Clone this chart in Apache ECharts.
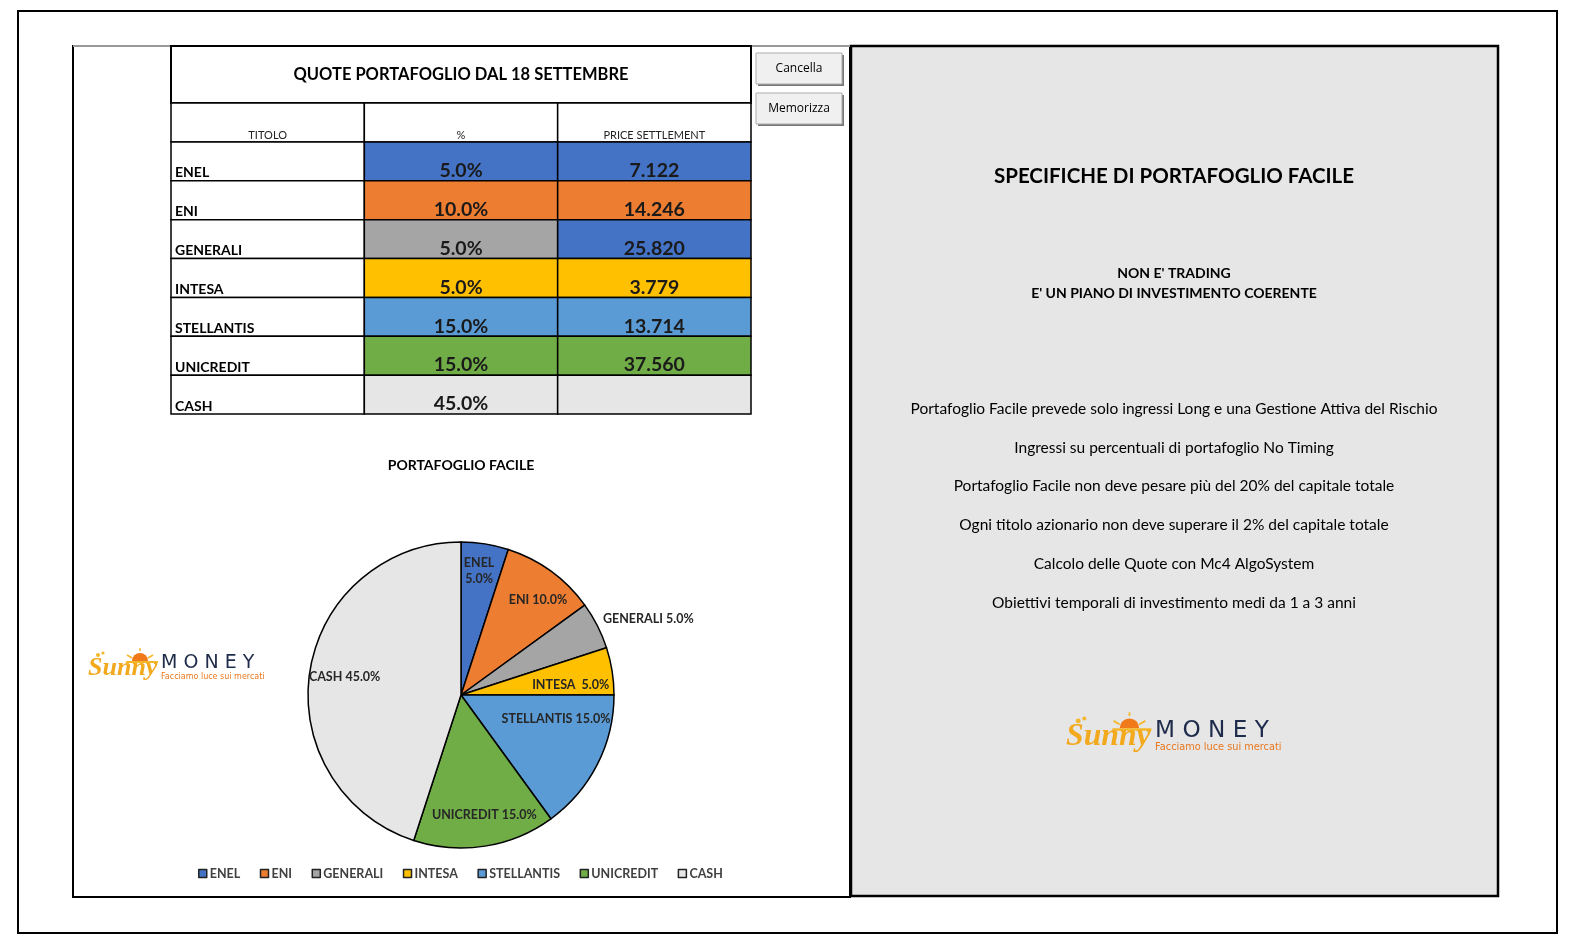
<!DOCTYPE html>
<html>
<head>
<meta charset="utf-8">
<script src="https://cdn.jsdelivr.net/npm/echarts@6/dist/echarts.min.js"></script>
<style>
html,body{margin:0;padding:0;background:#fff;}
#main{width:1574px;height:946px;}
</style>
</head>
<body>
<div id="main"></div>
<script>
// ---------- DATA ----------
const titoli = ['ENEL', 'ENI', 'GENERALI', 'INTESA', 'STELLANTIS', 'UNICREDIT', 'CASH'];
const quote = [5.0, 10.0, 5.0, 5.0, 15.0, 15.0, 45.0];
const prezzi = [7.122, 14.246, 25.820, 3.779, 13.714, 37.560, null];
const intestazioni = ['TITOLO', '%', 'PRICE SETTLEMENT'];
const titoloTabella = 'QUOTE PORTAFOGLIO DAL 18 SETTEMBRE';
const titoloGrafico = 'PORTAFOGLIO FACILE';
const specificheTitolo = 'SPECIFICHE DI PORTAFOGLIO FACILE';
const specificheSottotitolo = ["NON E' TRADING", "E' UN PIANO DI INVESTIMENTO COERENTE"];
const specifiche = [
  'Portafoglio Facile prevede solo ingressi Long e una Gestione Attiva del Rischio',
  'Ingressi su percentuali di portafoglio No Timing',
  'Portafoglio Facile non deve pesare più del 20% del capitale totale',
  'Ogni titolo azionario non deve superare il 2% del capitale totale',
  'Calcolo delle Quote con Mc4 AlgoSystem',
  'Obiettivi temporali di investimento medi da 1 a 3 anni'
];
const pulsanti = ['Cancella', 'Memorizza'];

// ---------- STYLE ----------
const FONT = 'Lato, "Open Sans", sans-serif';
const colori = ['#4472C4', '#ED7D31', '#A5A5A5', '#FFC000', '#5B9BD5', '#70AD47', '#E7E6E6'];
const coloriPrezzo = ['#4472C4', '#ED7D31', '#4472C4', '#FFC000', '#5B9BD5', '#70AD47', '#E7E6E6'];
const CX = 461, CY = 695, R = 153;
// label placement: [radius fraction, angle tweak in degrees]
const labelPos = [[0.82, -0.7], [0.8, 3], [1.32, 5], [0.72, 4], [0.64, -13], [0.8, -2], [0.77, 0]];

const chart = echarts.init(document.getElementById('main'), null, {renderer: 'canvas'});

// table cells (header row + data rows) x 3 columns
const cellData = [];
for (let r = 0; r <= titoli.length; r++) {
  for (let c = 0; c < 3; c++) cellData.push([c, r]);
}

function cellText(c, r) {
  if (r === 0) return intestazioni[c];
  const i = r - 1;
  if (c === 0) return titoli[i];
  if (c === 1) return quote[i].toFixed(1) + '%';
  return prezzi[i] == null ? '' : prezzi[i].toFixed(3);
}
function cellFill(c, r) {
  if (r === 0 || c === 0) return '#ffffff';
  const i = r - 1;
  return c === 1 ? colori[i] : coloriPrezzo[i];
}

function renderCell(params, api) {
  const c = api.value(0), r = api.value(1);
  const p = api.coord([c, r]);
  const s = api.size([1, 1]);
  const x = p[0] - s[0] / 2, y = p[1] - s[1] / 2;
  const children = [{
    type: 'rect',
    shape: {x: x, y: y, width: s[0], height: s[1]},
    style: {fill: cellFill(c, r), stroke: '#000', lineWidth: 1.5}
  }];
  const txt = cellText(c, r);
  if (r === 0) {
    children.push({type: 'text', style: {text: txt, x: x + s[0] / 2, y: y + s[1] - 1, align: 'center', verticalAlign: 'bottom', font: '11px ' + FONT, fill: '#222'}});
  } else if (c === 0) {
    children.push({type: 'text', style: {text: txt, x: x + 4, y: y + s[1] - 1, align: 'left', verticalAlign: 'bottom', font: 'bold 14px ' + FONT, fill: '#000'}});
  } else {
    children.push({type: 'text', style: {text: txt, x: x + s[0] / 2, y: y + s[1], align: 'center', verticalAlign: 'bottom', font: 'bold 19.5px ' + FONT, fill: '#1a1a1a'}});
  }
  return {type: 'group', children: children};
}

// logo drawing (decorative)
function logo(x, y, k) {
  return {
    type: 'group', x: x, y: y, scaleX: k, scaleY: k,
    children: [
      {type: 'sector', shape: {cx: 52, cy: 10, r: 8, r0: 0, startAngle: Math.PI, endAngle: 2 * Math.PI}, style: {fill: '#F07A1A'}},
      {type: 'line', shape: {x1: 39, y1: 4, x2: 44, y2: 7}, style: {stroke: '#F5B72A', lineWidth: 1.5}},
      {type: 'line', shape: {x1: 52, y1: -3, x2: 52, y2: 0}, style: {stroke: '#F5B72A', lineWidth: 1.5}},
      {type: 'line', shape: {x1: 65, y1: 4, x2: 60, y2: 7}, style: {stroke: '#F5B72A', lineWidth: 1.5}},
      {type: 'rect', shape: {x: 38, y: 10, width: 32, height: 2}, style: {fill: '#F5B72A'}},
      {type: 'circle', shape: {cx: 10, cy: 4, r: 2}, style: {fill: '#F5B72A'}},
      {type: 'circle', shape: {cx: 15, cy: 2, r: 1.6}, style: {fill: '#F5B72A'}},
      {type: 'text', style: {text: 'Sunny', x: 0, y: 30, font: 'italic bold 26px "Liberation Serif", serif', fill: '#F2A91E', verticalAlign: 'bottom'}},
      {type: 'text', style: {text: 'M O N E Y', x: 73, y: 22, font: '19px "DejaVu Sans", sans-serif', fill: '#1E2B4A', verticalAlign: 'bottom'}},
      {type: 'text', style: {text: 'Facciamo luce sui mercati', x: 73, y: 30, font: '8px "DejaVu Sans", sans-serif', fill: '#E8771E', verticalAlign: 'bottom'}}
    ]
  };
}

const graphics = [
  // outer frame
  {type: 'rect', z: -10, shape: {x: 18, y: 11, width: 1539, height: 922}, style: {fill: '#fff', stroke: '#000', lineWidth: 2}},
  // left panel
  {type: 'rect', z: -9, shape: {x: 73, y: 46, width: 777, height: 851}, style: {fill: '#fff', stroke: '#000', lineWidth: 2}},
  {type: 'line', z: -8, shape: {x1: 73, y1: 46, x2: 850, y2: 46}, style: {stroke: '#999', lineWidth: 2}},
  // right panel
  {type: 'rect', z: -9, shape: {x: 851, y: 46, width: 647, height: 850}, style: {fill: '#E6E6E6', stroke: '#000', lineWidth: 2.5}},
  // table title box
  {type: 'rect', shape: {x: 171, y: 46, width: 580, height: 57}, style: {fill: '#fff', stroke: '#000', lineWidth: 2}},
  {type: 'text', style: {text: titoloTabella, x: 461, y: 75, align: 'center', verticalAlign: 'middle', font: 'bold 16.5px ' + FONT, fill: '#000'}},
  // pie title
  {type: 'text', style: {text: titoloGrafico, x: 461, y: 465, align: 'center', verticalAlign: 'middle', font: 'bold 14px ' + FONT, fill: '#000'}},
  // right panel texts
  {type: 'text', style: {text: specificheTitolo, x: 1174, y: 176, align: 'center', verticalAlign: 'middle', font: 'bold 20.5px ' + FONT, fill: '#000'}},
  {type: 'text', style: {text: specificheSottotitolo[0], x: 1174, y: 273, align: 'center', verticalAlign: 'middle', font: 'bold 14px ' + FONT, fill: '#000'}},
  {type: 'text', style: {text: specificheSottotitolo[1], x: 1174, y: 293, align: 'center', verticalAlign: 'middle', font: 'bold 14px ' + FONT, fill: '#000'}},
  logo(88, 651, 1.0),
  logo(1066, 716, 1.22)
];
specifiche.forEach(function (t, i) {
  graphics.push({type: 'text', style: {text: t, x: 1174, y: 409 + i * 38.7, align: 'center', verticalAlign: 'middle', font: '15.5px ' + FONT, fill: '#000'}});
});
pulsanti.forEach(function (t, i) {
  const y = 53 + i * 40;
  graphics.push({type: 'rect', shape: {x: 758, y: y + 2, width: 86, height: 31}, style: {fill: '#777'}});
  graphics.push({type: 'rect', shape: {x: 756, y: y, width: 86, height: 31}, style: {fill: '#F0F0F0', stroke: '#ADADAD', lineWidth: 1}});
  graphics.push({type: 'text', style: {text: t, x: 799, y: y + 16, align: 'center', verticalAlign: 'middle', font: '12px "Open Sans", sans-serif', fill: '#000'}});
});

// cumulative angles for label placement
const totale = quote.reduce((a, b) => a + b, 0);
const midAngles = [];
let acc = 0;
quote.forEach(function (q) { midAngles.push((acc + q / 2) / totale * 360); acc += q; });

chart.setOption({
  animation: false,
  graphic: graphics,
  grid: {left: 171, top: 103, width: 580, height: 311},
  xAxis: {type: 'category', data: intestazioni, show: false},
  yAxis: {type: 'category', data: ['header'].concat(titoli), inverse: true, show: false},
  legend: {
    left: 193, top: 862, itemGap: 19.5, itemWidth: 8, itemHeight: 8, icon: 'rect',
    itemStyle: {borderColor: '#222', borderWidth: 1.5},
    textStyle: {fontFamily: FONT, fontWeight: 'bold', fontSize: 12.5, color: '#404040', padding: [0, 0, 0, -2]},
    data: titoli
  },
  series: [
    {
      type: 'custom', coordinateSystem: 'cartesian2d', renderItem: renderCell,
      data: cellData, silent: true
    },
    {
      type: 'pie', center: [CX, CY], radius: R, startAngle: 90, clockwise: true,
      itemStyle: {borderColor: '#000', borderWidth: 1.5},
      emphasis: {disabled: true},
      label: {
        show: true, position: 'inside', fontFamily: FONT, fontWeight: 'bold', fontSize: 12.5, color: '#262626', lineHeight: 16,
        formatter: function (p) {
          const v = quote[p.dataIndex].toFixed(1) + '%';
          if (p.dataIndex === 0) return p.name + '\n' + v;
          if (p.dataIndex === 3) return p.name + '  ' + v;
          return p.name + ' ' + v;
        }
      },
      labelLine: {show: false},
      labelLayout: function (p) {
        const i = p.dataIndex;
        const a = (midAngles[i] + labelPos[i][1]) * Math.PI / 180;
        const rr = labelPos[i][0] * R;
        return {x: CX + rr * Math.sin(a), y: CY - rr * Math.cos(a), align: 'center', verticalAlign: 'middle'};
      },
      data: titoli.map(function (t, i) { return {name: t, value: quote[i], itemStyle: {color: colori[i]}}; })
    }
  ]
});
</script>
</body>
</html>
